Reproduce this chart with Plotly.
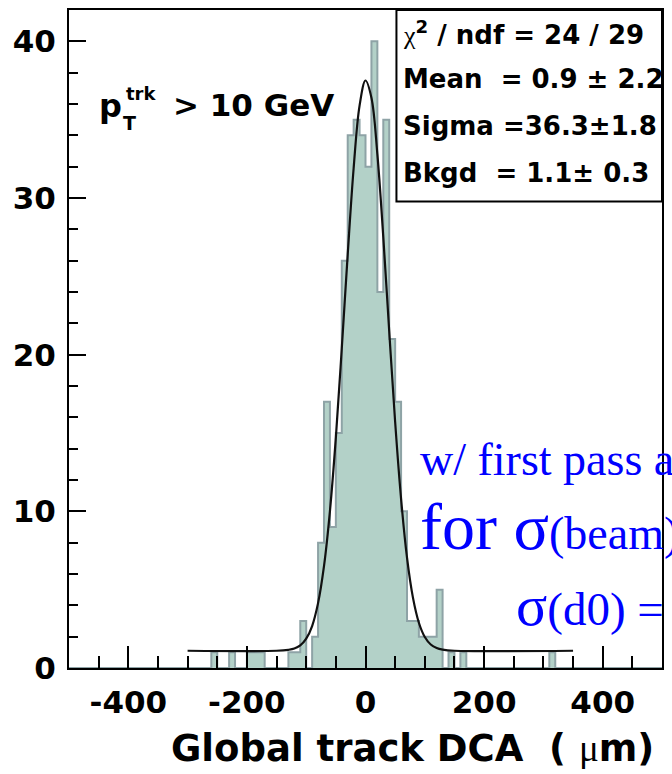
import numpy as np
import plotly.graph_objects as go

# ---------------- data ----------------
# histogram: lower edge (um) of each non-empty 10-um bin and its count
bin_low = [-260, -230, -200, -190, -180, -130, -120, -110, -90, -80, -70, -60, -50, -40,
           -30, -20, -10, 0, 10, 20, 30, 40, 50, 60, 70, 80, 90, 100, 110, 120, 140, 160, 310]
counts = [1, 1, 1, 1, 1, 1, 1, 3, 2, 8, 17, 9, 15, 26,
          34, 35, 34, 32, 40, 24, 35, 21, 17, 10, 3, 3, 2, 2, 2, 5, 1, 1, 1]
bin_width = 10
x_range = [-500, 500]

# fitted curve (gaus + const)
fit_x = [-300, -150, -130, -120, -110, -100, -90, -80, -70, -60, -50, -40, -30, -20, -10,
         0, 10, 20, 30, 40, 50, 60, 70, 80, 90, 100, 110, 120, 130, 150, 350]
fit_y = [1.1, 1.1, 1.16, 1.24, 1.44, 1.87, 2.68, 4.14, 6.50, 10.0, 14.7, 20.4, 26.4, 31.9, 35.9,
         37.5, 36.4, 32.8, 27.5, 21.5, 15.7, 10.8, 7.04, 4.49, 2.89, 1.98, 1.50, 1.27, 1.17, 1.1, 1.1]

x_tick_vals = [-400, -200, 0, 200, 400]
x_tick_text = ["-400", "-200", "0", "200", "400"]
y_tick_vals = [0, 10, 20, 30, 40]
y_tick_text = ["0", "10", "20", "30", "40"]

stats_lines = [
    "<span style=\"font-family:Liberation Serif;font-weight:normal\">\u03c7</span><sup>2</sup> / ndf = 24 / 29",
    "Mean\u00a0 = 0.9 \u00b1 2.2",
    "Sigma =36.3\u00b11.8",
    "Bkgd\u00a0 = 1.1\u00b1 0.3",
]

# ---------------- build full histogram ----------------
edges = np.arange(x_range[0], x_range[1] + bin_width, bin_width)
full = np.zeros(len(edges) - 1)
for lo, c in zip(bin_low, counts):
    full[int((lo - x_range[0]) // bin_width)] = c
step_y = np.append(full, full[-1])

W, H = 672, 774
L, R, T, B = 69, 9, 8, 106
PW, PH = W - L - R, H - T - B


def px(xp):
    return (xp - L) / PW


def py(yp):
    return (H - B - yp) / PH


fig = go.Figure()
fig.add_trace(go.Scatter(x=edges, y=step_y, mode="lines", line_shape="hv",
                         fill="tozeroy", fillcolor="#b3d1c8",
                         line=dict(color="#8ea3a6", width=2), hoverinfo="skip"))
fig.add_trace(go.Scatter(x=fit_x, y=fit_y, mode="lines",
                         line=dict(color="#111111", width=2.2, shape="spline")))

bold = dict(family="DejaVu Sans", color="black", weight="bold")

fig.update_layout(
    width=W, height=H, margin=dict(l=L, r=R, t=T, b=B, pad=0),
    plot_bgcolor="white", paper_bgcolor="white", showlegend=False,
)
fig.update_xaxes(range=x_range, tickmode="array", tickvals=x_tick_vals, ticktext=x_tick_text,
                 ticks="inside", ticklen=22, tickwidth=2, tickcolor="black",
                 minor=dict(ticks="inside", dtick=50, tick0=0, ticklen=12, tickwidth=2, tickcolor="black"),
                 showline=True, linecolor="black", linewidth=2, mirror=True,
                 showgrid=False, zeroline=False, ticklabelstandoff=6,
                 tickfont=dict(size=31, **bold))
fig.update_yaxes(range=[0, 42], tickmode="array", tickvals=y_tick_vals, ticktext=y_tick_text,
                 ticks="inside", ticklen=17, tickwidth=2, tickcolor="black",
                 minor=dict(ticks="inside", dtick=2, tick0=0, ticklen=9, tickwidth=2, tickcolor="black"),
                 showline=True, linecolor="black", linewidth=2, mirror=True,
                 showgrid=False, zeroline=False, ticklabelstandoff=5,
                 tickfont=dict(size=31, **bold))

# stats box
fig.add_shape(type="rect", xref="paper", yref="paper", x0=px(397), x1=1, y0=py(200), y1=1,
              line=dict(color="black", width=2), fillcolor="white", layer="above")

ann = []
for txt, yc in zip(stats_lines, [31, 77.5, 124, 171]):
    ann.append(dict(text=txt, x=px(402), y=py(yc), xref="paper", yref="paper",
                    xanchor="left", yanchor="middle", showarrow=False,
                    font=dict(size=26, **bold)))

# p_T^trk > 10 GeV
ann.append(dict(text="p", x=px(97), y=py(104), xref="paper", yref="paper", xanchor="left",
                yanchor="middle", showarrow=False, font=dict(size=32, **bold)))
ann.append(dict(text="trk", x=px(124), y=py(92), xref="paper", yref="paper", xanchor="left",
                yanchor="middle", showarrow=False, font=dict(size=18, **bold)))
ann.append(dict(text="T", x=px(121), y=py(121), xref="paper", yref="paper", xanchor="left",
                yanchor="middle", showarrow=False, font=dict(size=19, **bold)))
ann.append(dict(text="&gt; 10 GeV", x=px(171), y=py(103), xref="paper", yref="paper", xanchor="left",
                yanchor="middle", showarrow=False, font=dict(size=31, **bold)))

# x axis title
ann.append(dict(text="Global track DCA\u00a0\u00a0( <span style=\"font-family:Liberation Serif;font-weight:normal\">\u03bc</span>m)",
                x=px(657), y=py(749), xref="paper", yref="paper", xanchor="right",
                yanchor="middle", showarrow=False, font=dict(size=37, **bold)))

# blue overlay text (cut by the right edge, as in the original slide)
blue = dict(family="Liberation Serif", color="#0000ff")
ann.append(dict(text="w/ first pass alignment", x=px(419), y=py(459), xref="paper", yref="paper",
                xanchor="left", yanchor="middle", showarrow=False, font=dict(size=46, **blue)))
ann.append(dict(text="<span style=\"font-size:66px\">for \u03c3</span><span style=\"font-size:46px\">(beam)</span>",
                x=px(419), y=py(526), xref="paper", yref="paper",
                xanchor="left", yanchor="middle", showarrow=False, font=dict(size=66, **blue)))
ann.append(dict(text="<span style=\"font-size:58px\">\u03c3</span><span style=\"font-size:47px\">(d0)\u00a0=</span>",
                x=px(515), y=py(605), xref="paper", yref="paper",
                xanchor="left", yanchor="middle", showarrow=False, font=dict(size=58, **blue)))

fig.update_layout(annotations=ann)
fig.write_html("out.html")
